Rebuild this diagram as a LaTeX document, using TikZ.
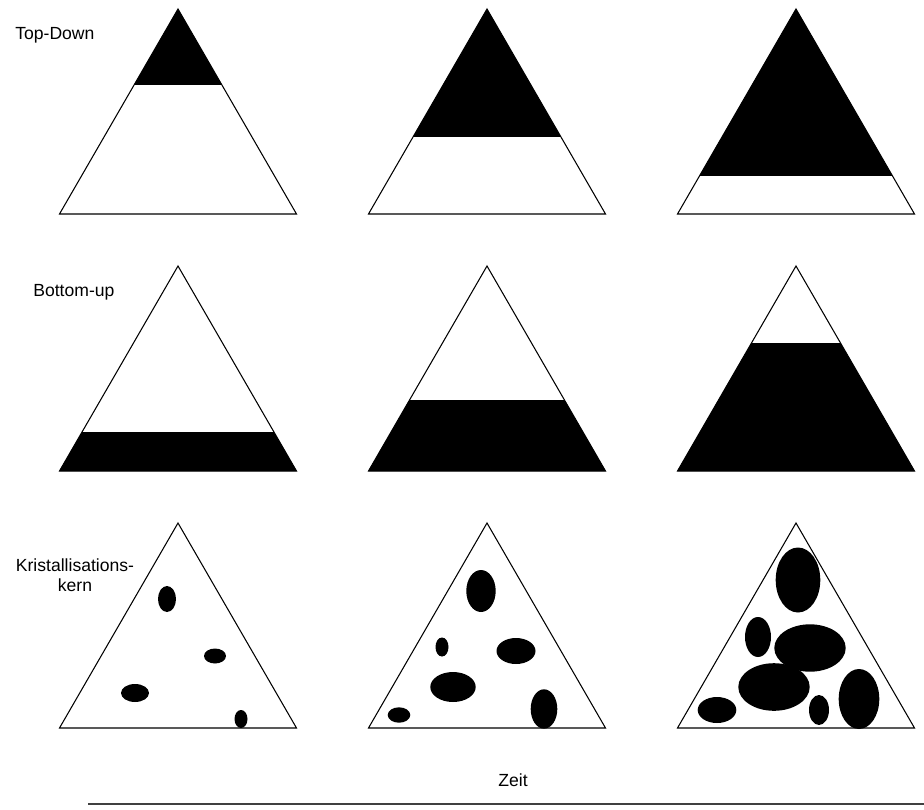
\documentclass[tikz,border=0pt]{standalone}
\usepackage{fontspec}
\setmainfont{Liberation Sans}
\begin{document}
\begin{tikzpicture}[x=0.02cm, y=-0.02cm, font=\fontsize{10}{11.4}\selectfont,
  tri/.style={draw=black, line width=0.6pt},
  blob/.style={fill=black},
  lab/.style={anchor=west, inner sep=0pt},
  axis/.style={draw=black!75, line width=1.1pt}]
\useasboundingbox (0,0) rectangle (924,809);
% Top-Down: the black part grows down from the apex
\node[lab] (topdown) at (15,35) {Top-Down};
\foreach \ax/\lev in {178/85, 487/137, 796/176} {
  \begin{scope}
    \clip (\ax,9) -- (\ax-118.5,214) -- (\ax+118.5,214) -- cycle;
    \fill (\ax-120,0) rectangle (\ax+120,\lev);
  \end{scope}
  \draw[tri] (\ax,9) -- (\ax-118.5,214) -- (\ax+118.5,214) -- cycle;
}

% Bottom-up: the black part grows up from the base
\node[lab] (bottomup) at (33,292) {Bottom-up};
\foreach \ax/\lev in {178/432, 487/400, 796/343} {
  \begin{scope}
    \clip (\ax,266) -- (\ax-118.5,471) -- (\ax+118.5,471) -- cycle;
    \fill (\ax-120,\lev) rectangle (\ax+120,480);
  \end{scope}
  \draw[tri] (\ax,266) -- (\ax-118.5,471) -- (\ax+118.5,471) -- cycle;
}

% Kristallisationskern: scattered nuclei that grow
\node[align=center, inner sep=0pt] (kern) at (75,575) {Kristallisations-\\kern};
\foreach \ax in {178, 487, 796}
  \draw[tri] (\ax,523) -- (\ax-118.5,728) -- (\ax+118.5,728) -- cycle;
\fill[blob] (167,599) ellipse [x radius=9, y radius=13];
\fill[blob] (215,656) ellipse [x radius=11, y radius=7.5];
\fill[blob] (135,693) ellipse [x radius=14, y radius=9];
\fill[blob] (241,719) ellipse [x radius=6.5, y radius=9];

\fill[blob] (481,591) ellipse [x radius=14.7, y radius=21];
\fill[blob] (442,647) ellipse [x radius=6.5, y radius=9.5];
\fill[blob] (516,651) ellipse [x radius=19.5, y radius=13];
\fill[blob] (453,687) ellipse [x radius=22.7, y radius=15];
\fill[blob] (399,715) ellipse [x radius=11.3, y radius=7.7];
\fill[blob] (544,709) ellipse [x radius=13.3, y radius=19.7];

\fill[blob] (798,580) ellipse [x radius=22.3, y radius=32.5];
\fill[blob] (758,637) ellipse [x radius=13, y radius=20];
\fill[blob] (810,648) ellipse [x radius=35.7, y radius=23.7];
\fill[blob] (774,687) ellipse [x radius=35.7, y radius=23.8];
\fill[blob] (717,710) ellipse [x radius=19.3, y radius=13];
\fill[blob] (819,710) ellipse [x radius=10, y radius=15];
\fill[blob] (859,699) ellipse [x radius=20.3, y radius=30];

% time axis
\node (zeit) at (513,780) {Zeit};
\coordinate (tstart) at (88,804);
\coordinate (tend) at (924,804);
\draw[axis] (tstart) -- (tend);
\end{tikzpicture}
\end{document}
